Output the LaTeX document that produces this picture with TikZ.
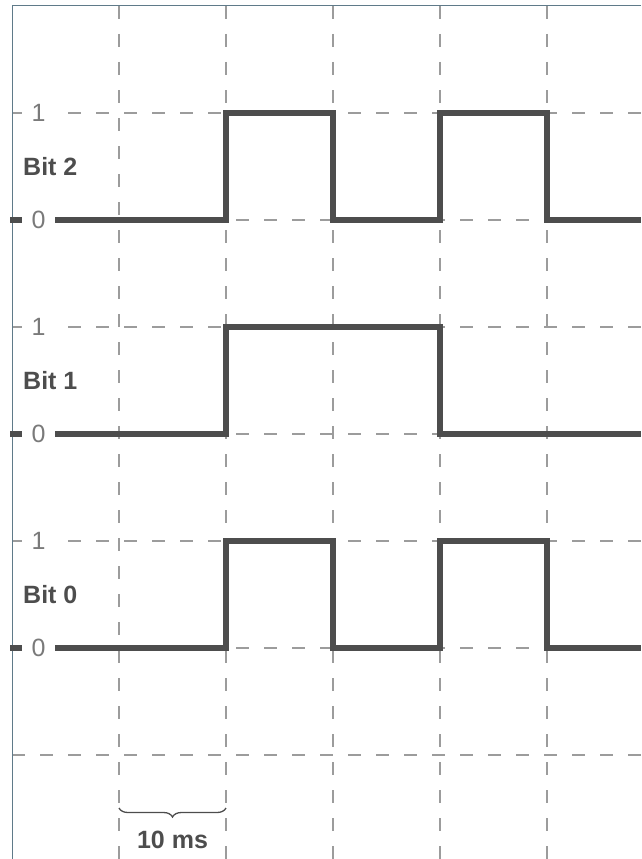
\documentclass[tikz,border=0pt]{standalone}
\usepackage{fontspec}
\setmainfont{Liberation Sans}
\usetikzlibrary{decorations.pathreplacing}
\definecolor{sig}{HTML}{4D4D4D}
\definecolor{gridc}{HTML}{9C9C9C}
\definecolor{framec}{HTML}{5F7A89}
\definecolor{lvl}{HTML}{7A7A7A}
\begin{document}
\begin{tikzpicture}[x=1pt,y=-1pt,
 gridline/.style={draw=gridc, line width=1.2pt, dash pattern=on 13pt off 15pt},
 signal/.style={draw=sig, line width=6pt, line join=miter, line cap=butt},
 level/.style={fill=white, text=lvl, font=\fontsize{25}{25}\selectfont, inner sep=0pt, minimum width=33pt, minimum height=20pt},
 bitlabel/.style={text=sig, font=\fontsize{25}{25}\selectfont\bfseries, anchor=west, inner sep=0pt},
 bracec/.style={draw=sig, line width=1.3pt, decorate, decoration={brace, mirror, amplitude=9pt}}]
\useasboundingbox (0,0) rectangle (641,859);
\foreach \x in {119,226,333,440,547} \draw[gridline] (\x,6) -- (\x,859);
\foreach \y in {113,220,327,434,541,648,755} \draw[gridline] (12,\y) -- (641,\y);
\draw[draw=framec, line width=1pt] (641,6) -- (12.5,6) -- (12.5,859);
% Bit 2
\draw[signal] (10,220) -- (226,220) -- (226,113) -- (333,113) -- (333,220) -- (440,220) -- (440,113) -- (547,113) -- (547,220) -- (641,220);
% Bit 1
\draw[signal] (10,434) -- (226,434) -- (226,327) -- (440,327) -- (440,434) -- (641,434);
% Bit 0
\draw[signal] (10,648) -- (226,648) -- (226,541) -- (333,541) -- (333,648) -- (440,648) -- (440,541) -- (547,541) -- (547,648) -- (641,648);
% level labels
\node[level] (one2) at (38.5,113) {1};
\node[level] (zero2) at (38.5,220) {0};
\node[level] (one1) at (38.5,327) {1};
\node[level] (zero1) at (38.5,434) {0};
\node[level] (one0) at (38.5,541) {1};
\node[level] (zero0) at (38.5,648) {0};
\node[bitlabel] (b2) at (23,166.5) {Bit 2};
\node[bitlabel] (b1) at (23,380.5) {Bit 1};
\node[bitlabel] (b0) at (23,594.5) {Bit 0};
% brace
\coordinate (bl) at (119,808);
\coordinate (br) at (226,808);
\draw[bracec] (bl) -- (br);
\node[text=sig, font=\fontsize{25}{25}\selectfont\bfseries, inner sep=0pt] (ms) at (172.5,840) {10 ms};
\end{tikzpicture}
\end{document}
